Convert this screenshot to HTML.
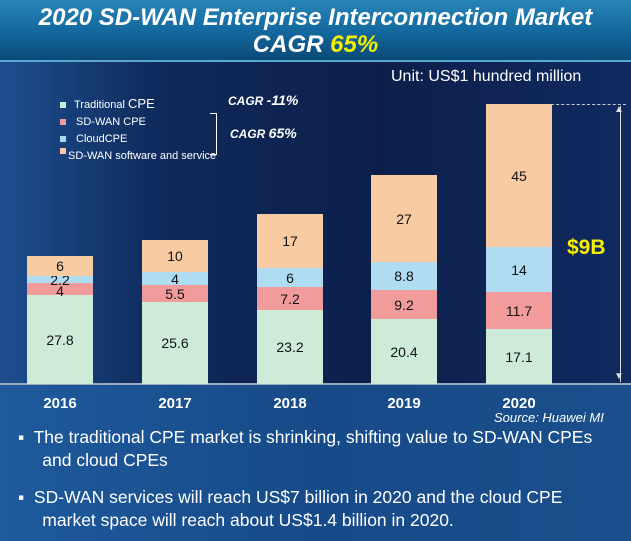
<!DOCTYPE html><html><head><style>
body{margin:0;width:631px;height:541px;overflow:hidden;font-family:"Liberation Sans",sans-serif;}
#w{position:relative;width:631px;height:541px;background:linear-gradient(90deg,#1d4f8f 0%,#0f2a5c 25%,#0c1f4a 60%,#102a60 100%);overflow:hidden}
#t{position:absolute;left:0;top:0;width:631px;height:62px;background:linear-gradient(180deg,#2784b6 0%,#146aa0 50%,#0b4a78 100%);border-bottom:2px solid #5aa8d0;color:#fff;font-weight:bold;font-style:italic;text-align:center;font-size:24px;line-height:27px;padding-top:4px;box-sizing:border-box}
.b{position:absolute;width:66px}
.l{position:absolute;width:66px;text-align:center;font-size:14px;color:#111}
.y{position:absolute;top:395px;width:66px;text-align:center;color:#fff;font-size:15px;font-weight:bold}
#bot{position:absolute;left:0;top:385px;width:631px;height:156px;background:linear-gradient(90deg,#1e5a9c,#174a88 50%,#1a4f8c)}
.p{position:absolute;color:#fff;font-size:17.5px;line-height:23px;white-space:nowrap}
</style></head><body><div id="w">
<div id="t">2020 SD-WAN Enterprise Interconnection Market<br>CAGR <span style="color:#f5f000">65%</span></div>
<div id="bot"></div>
<div style="position:absolute;left:391px;top:68px;color:#fff;font-size:16px">Unit: US$1 hundred million</div>
<div style="position:absolute;left:60px;top:95px;color:#fff;font-size:11px;line-height:17px">
<div><span style="display:inline-block;width:6px;height:6px;background:#c8ecd8;margin-right:8px"></span>Traditional <span style="font-size:13px">CPE</span></div>
<div><span style="display:inline-block;width:6px;height:6px;background:#f49a9a;margin-right:10px"></span>SD-WAN CPE</div>
<div><span style="display:inline-block;width:6px;height:6px;background:#a8d8f0;margin-right:10px"></span>CloudCPE</div>
<div><span style="display:inline-block;width:6px;height:6px;background:#f8c9a0;margin-right:2px;vertical-align:top"></span>SD-WAN software and service</div></div>
<div style="position:absolute;left:228px;top:92px;color:#fff;font-size:12px;font-style:italic;font-weight:bold">CAGR <span style="font-size:14px">-11%</span></div>
<div style="position:absolute;left:210px;top:113px;width:6px;height:40px;border:1px solid #fff;border-left:none"></div>
<div style="position:absolute;left:230px;top:125px;color:#fff;font-size:12px;font-style:italic;font-weight:bold">CAGR <span style="font-size:14px">65%</span></div>
<div style="position:absolute;left:0;top:383px;width:631px;height:2px;background:#9ab"></div>
<div style="position:absolute;left:551px;top:104px;width:75px;border-top:1px dashed #ccc"></div>
<div style="position:absolute;left:620px;top:106px;width:1px;height:276px;background:#ddd"></div>
<div style="position:absolute;left:614px;top:104px;color:#ddd;font-size:10px">▲</div>
<div style="position:absolute;left:614px;top:371px;color:#ddd;font-size:10px">▼</div>
<div style="position:absolute;left:567px;top:236px;color:#f5f000;font-size:21px;font-weight:bold">$9B</div>
<div id="bars"></div>
<div style="position:absolute;left:494px;top:410px;color:#fff;font-size:13px;font-style:italic">Source: Huawei MI</div>
<div class="p" style="left:18px;top:426px">▪&nbsp; The traditional CPE market is shrinking, shifting value to SD-WAN CPEs<br>&nbsp;&nbsp;&nbsp;&nbsp;&nbsp;and cloud CPEs</div>
<div class="p" style="left:18px;top:486px">▪&nbsp; SD-WAN services will reach US$7 billion in 2020 and the cloud CPE<br>&nbsp;&nbsp;&nbsp;&nbsp;&nbsp;market space will reach about US$1.4 billion in 2020.</div>
<script>
var d=[[27,2016,[27.8,4,2.2,6]],[142,2017,[25.6,5.5,4,10]],[257,2018,[23.2,7.2,6,17]],[371,2019,[20.4,9.2,8.8,27]],[486,2020,[17.1,11.7,14,45]]];
var c=['#cdebd8','#f29b9b','#b0dcf2','#f9cba3'],s=3.19,h='';
d.forEach(function(b){var cum=0,prev=384;b[2].forEach(function(v,i){cum+=v;var y=Math.round(384-cum*s),hh=prev-y;h+='<div class="b" style="left:'+b[0]+'px;top:'+y+'px;height:'+hh+'px;background:'+c[i]+'"></div>';var ty=y+hh/2-8;if(b[1]==2016&&i==1)ty+=2;h+='<div class="l" style="left:'+b[0]+'px;top:'+ty+'px">'+v+'</div>';prev=y;});h+='<div class="y" style="left:'+b[0]+'px">'+b[1]+'</div>';});
document.getElementById('bars').innerHTML=h;
</script>
</div></body></html>
